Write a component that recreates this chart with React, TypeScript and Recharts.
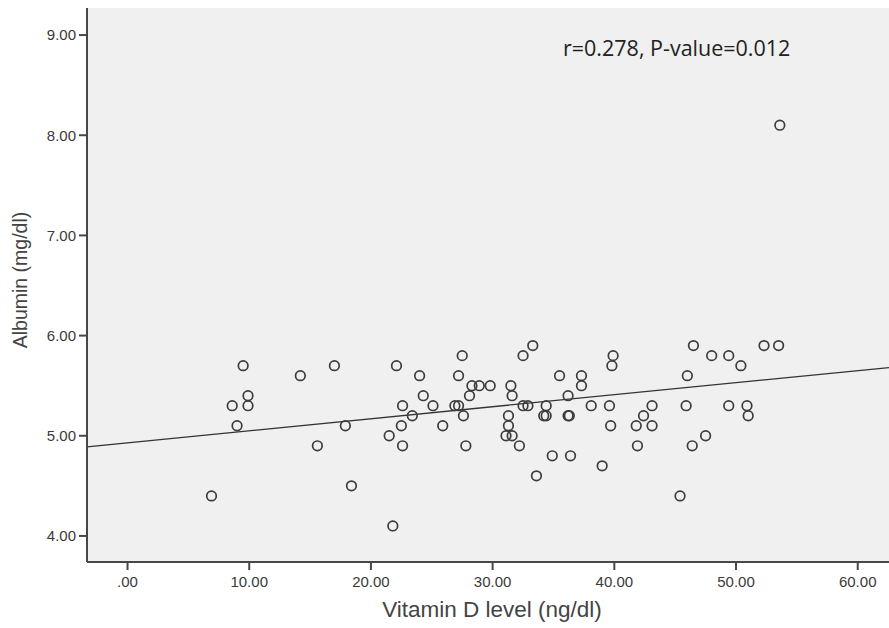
import React from 'react';
import {
  ScatterChart,
  Scatter,
  XAxis,
  YAxis,
  CartesianGrid,
  ReferenceLine,
} from 'recharts';

// Vitamin D level (ng/dl)
const vitaminD: number[] = [
  6.9, 8.6, 9.0, 9.5, 9.9, 9.9, 14.2, 15.6, 17.0, 17.9, 18.4, 21.5, 21.8, 22.1,
  22.5, 22.6, 22.6, 23.4, 24.0, 24.3, 25.1, 25.9, 26.9, 27.2, 27.2, 27.5, 27.6,
  27.8, 28.1, 28.3, 28.9, 29.8, 31.1, 31.3, 31.3, 31.5, 31.6, 31.6, 32.2, 32.5,
  32.5, 32.9, 33.3, 33.6, 34.2, 34.4, 34.4, 34.9, 35.5, 36.2, 36.2, 36.3, 36.4,
  37.3, 37.3, 38.1, 39.0, 39.6, 39.7, 39.8, 39.9, 41.8, 41.9, 42.4, 43.1, 43.1,
  45.4, 45.9, 46.0, 46.4, 46.5, 47.5, 48.0, 49.4, 49.4, 50.4, 50.9, 51.0, 52.3,
  53.5, 53.6,
];

// Albumin (mg/dl)
const albumin: number[] = [
  4.4, 5.3, 5.1, 5.7, 5.4, 5.3, 5.6, 4.9, 5.7, 5.1, 4.5, 5.0, 4.1, 5.7,
  5.1, 4.9, 5.3, 5.2, 5.6, 5.4, 5.3, 5.1, 5.3, 5.3, 5.6, 5.8, 5.2,
  4.9, 5.4, 5.5, 5.5, 5.5, 5.0, 5.2, 5.1, 5.5, 5.4, 5.0, 4.9, 5.8,
  5.3, 5.3, 5.9, 4.6, 5.2, 5.2, 5.3, 4.8, 5.6, 5.4, 5.2, 5.2, 4.8,
  5.6, 5.5, 5.3, 4.7, 5.3, 5.1, 5.7, 5.8, 5.1, 4.9, 5.2, 5.3, 5.1,
  4.4, 5.3, 5.6, 4.9, 5.9, 5.0, 5.8, 5.8, 5.3, 5.7, 5.3, 5.2, 5.9,
  5.9, 8.1,
];

const xTicks: number[] = [0, 10, 20, 30, 40, 50, 60];
const yTicks: number[] = [4, 5, 6, 7, 8, 9];
const xDomain: number[] = [-3.33, 62.57];
const yDomain: number[] = [3.74, 9.27];

// Fit line: albumin = intercept + slope * vitaminD
const fitIntercept = 4.93;
const fitSlope = 0.012;

const annotation = 'r=0.278, P-value=0.012';
const xTitle = 'Vitamin D level (ng/dl)';
const yTitle = 'Albumin (mg/dl)';

const points = vitaminD.map((x, i) => ({ x, y: albumin[i] }));
const fitSegment = xDomain.map((x) => ({ x, y: fitIntercept + fitSlope * x }));

const fmt = (v: number) => (v === 0 ? '.00' : v.toFixed(2));

const AXIS = '#474747';
const TEXT = '#3a3a3a';
const FONT = '"Liberation Sans", Arial, sans-serif';

const Ring = (props: any) => {
  const { cx, cy } = props;
  if (cx == null || cy == null) return null;
  return (
    <circle cx={cx} cy={cy} r={4.8} fill="none" stroke="#3c3c3c" strokeWidth={1.7} />
  );
};

const YTitle = (props: any) => {
  const vb = props.viewBox || {};
  const cx = (vb.x || 0) + 20;
  const cy = (vb.y || 0) + (vb.height || 0) / 2 - 5;
  return (
    <text
      x={cx}
      y={cy}
      transform={`rotate(-90, ${cx}, ${cy})`}
      textAnchor="middle"
      dominantBaseline="central"
      fill="#444"
      fontSize={19.5}
      fontFamily={FONT}
    >
      {yTitle}
    </text>
  );
};

export default function App() {
  return (
    <div
      style={{
        position: 'fixed',
        left: 0,
        top: 0,
        width: 889,
        height: 628,
        background: '#ffffff',
        overflow: 'hidden',
      }}
    >
      <ScatterChart
        width={889}
        height={628}
        margin={{ top: 8, right: 0, bottom: 0, left: 0 }}
        style={{ fontFamily: FONT }}
      >
        <CartesianGrid fill="#f0f0f0" horizontal={false} vertical={false} stroke="none" />
        <XAxis
          type="number"
          dataKey="x"
          domain={xDomain}
          ticks={xTicks}
          tickFormatter={fmt}
          allowDataOverflow
          height={66}
          tickSize={8}
          tickMargin={6}
          axisLine={{ stroke: AXIS, strokeWidth: 2 }}
          tickLine={{ stroke: AXIS, strokeWidth: 2 }}
          tick={{ fill: TEXT, fontSize: 15, fontFamily: FONT }}
          label={{
            value: xTitle,
            position: 'insideBottom',
            offset: 11,
            dx: 4,
            style: { fill: '#444', fontSize: 22.5, fontFamily: FONT },
          }}
        />
        <XAxis
          xAxisId="top"
          orientation="top"
          type="number"
          dataKey="x"
          domain={xDomain}
          allowDataOverflow
          height={0}
          tick={false}
          tickLine={false}
          axisLine={{ stroke: '#5a5a5a', strokeWidth: 1.2 }}
        />
        <YAxis
          type="number"
          dataKey="y"
          domain={yDomain}
          ticks={yTicks}
          tickFormatter={fmt}
          allowDataOverflow
          width={87}
          tickSize={8}
          tickMargin={3}
          axisLine={{ stroke: AXIS, strokeWidth: 2 }}
          tickLine={{ stroke: AXIS, strokeWidth: 2 }}
          tick={{ fill: TEXT, fontSize: 15, fontFamily: FONT }}
          label={<YTitle />}
        />
        <ReferenceLine
          segment={fitSegment}
          stroke="#333"
          strokeWidth={1.3}
          ifOverflow="extendDomain"
        />
        <Scatter data={points} shape={Ring} isAnimationActive={false} />
      </ScatterChart>
      <div
        style={{
          position: 'absolute',
          left: 563,
          top: 33,
          fontFamily: '"Open Sans", sans-serif',
          fontSize: 21.5,
          color: '#222',
          whiteSpace: 'nowrap',
          lineHeight: '30px',
        }}
      >
        {annotation}
      </div>
    </div>
  );
}
